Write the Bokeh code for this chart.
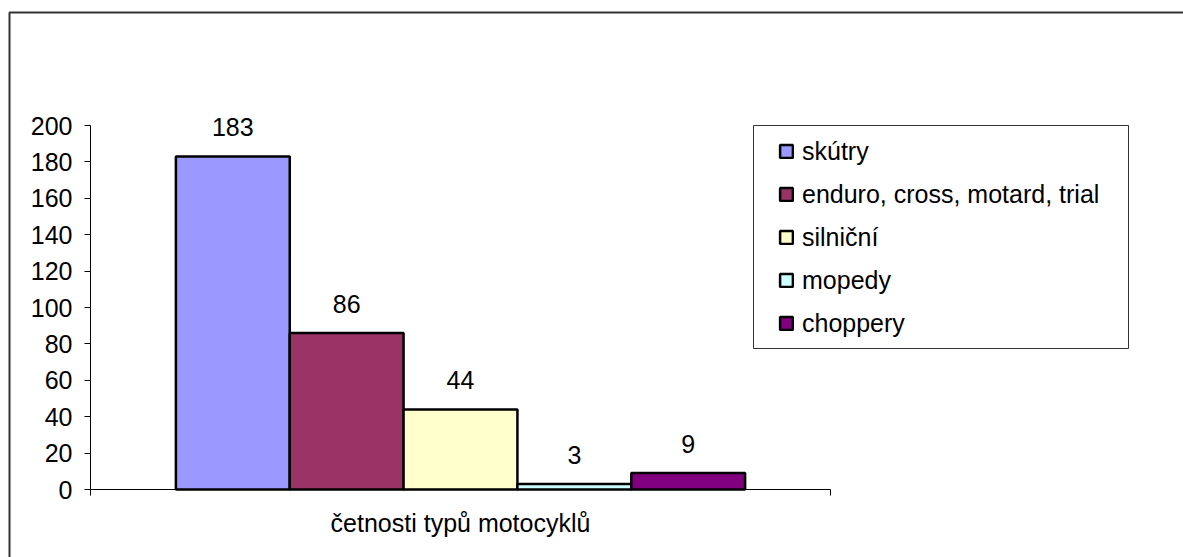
from bokeh.plotting import figure
from bokeh.models import (Range1d, FixedTicker, Legend, LegendItem, BoxAnnotation,
                          ColumnDataSource)
from bokeh.core.properties import value
from bokeh.embed import file_html
from bokeh.resources import INLINE

# ---- data ----
category = "četnosti typů motocyklů"
series = ["skútry", "enduro, cross, motard, trial", "silniční", "mopedy", "choppery"]
counts = [183, 86, 44, 3, 9]
colors = ["#9999FF", "#993366", "#FFFFCC", "#CCFFFF", "#800080"]
y_ticks = [0, 20, 40, 60, 80, 100, 120, 140, 160, 180, 200]

# ---- layout (pixels) ----
FONT = "Liberation Sans"
FS = "25px"
W, H = 1183, 557
AX_X, AX_Y0, AX_Y1 = 90, 489, 125   # plot-area left, bottom, top
CAT_PX = 740                        # pixel width of the category span
Y_MAX = 200
ppu = (AX_Y0 - AX_Y1) / Y_MAX       # pixels per y unit
n = len(series)
gap = 1.5                           # Excel-like gap width (in bar widths)
slot = n + gap
bar_w = 1.0 / slot
xs = [(gap / 2 + i + 0.5) / slot for i in range(n)]

src = ColumnDataSource(dict(x=xs, top=counts, color=colors, name=series,
                            label=[str(c) for c in counts]))

# frame covers the whole canvas; axes are drawn at fixed locations
p = figure(width=W, height=H, output_backend="svg", toolbar_location=None,
           x_range=Range1d(-AX_X / CAT_PX, (W - AX_X) / CAT_PX),
           y_range=Range1d(-(H - AX_Y0) / ppu, Y_MAX + AX_Y1 / ppu),
           min_border_left=0, min_border_right=0, min_border_top=0,
           min_border_bottom=0)
p.outline_line_color = None
p.xgrid.visible = False
p.ygrid.visible = False
p.background_fill_color = "white"
p.border_fill_color = "white"

# y axis
ya = p.yaxis[0]
ya.fixed_location = 0
ya.bounds = (0, Y_MAX)
ya.ticker = FixedTicker(ticks=y_ticks)
ya.major_tick_out = 6
ya.major_tick_in = 0
ya.minor_tick_line_color = None
ya.axis_line_color = "black"
ya.major_tick_line_color = "black"
ya.major_label_text_font = FONT
ya.major_label_text_font_size = FS
ya.major_label_text_color = "black"
ya.major_label_standoff = 12

# x axis: category label at the centre, edge ticks as minor ticks
xa = p.xaxis[0]
xa.fixed_location = 0
xa.ticker = FixedTicker(ticks=[0.5], minor_ticks=[0, 1])
xa.bounds = (0, 1)
xa.major_tick_out = 0
xa.major_tick_in = 0
xa.major_tick_line_color = None
xa.minor_tick_out = 6
xa.minor_tick_in = 0
xa.minor_tick_line_color = "black"
xa.axis_line_color = "black"
xa.major_label_overrides = {0.5: category}
xa.major_label_text_font = FONT
xa.major_label_text_font_size = FS
xa.major_label_text_color = "black"
xa.major_label_standoff = 13

bars = p.vbar(x="x", top="top", width=bar_w, source=src, fill_color="color",
              line_color="black", line_width=2.5)

p.text(x="x", y="top", text="label", source=src, y_offset=-20,
       text_align="center", text_baseline="bottom",
       text_font=value(FONT), text_font_size=FS, text_color="black")

legend = Legend(items=[LegendItem(label=s, renderers=[bars], index=i)
                       for i, s in enumerate(series)],
                location=(778, 219), orientation="vertical",
                padding=0, spacing=13, margin=0,
                glyph_width=16, glyph_height=16, label_height=30,
                label_standoff=8, label_text_font=FONT, label_text_font_size=FS,
                label_text_color="black", border_line_alpha=0,
                background_fill_alpha=0)
p.add_layout(legend, "center")

# legend frame and outer chart border (canvas pixels)
p.add_layout(BoxAnnotation(left=753, right=1128, top=125, bottom=348,
                           left_units="canvas", right_units="canvas",
                           top_units="canvas", bottom_units="canvas",
                           fill_color=None, line_color="#333333", line_alpha=1.0,
                           line_width=1))
p.add_layout(BoxAnnotation(left=9, right=W + 60, top=12, bottom=H + 60,
                           left_units="canvas", right_units="canvas",
                           top_units="canvas", bottom_units="canvas",
                           fill_color=None, line_color="#333333", line_alpha=1.0,
                           line_width=2))

open("out.html", "w").write(file_html(p, INLINE))
